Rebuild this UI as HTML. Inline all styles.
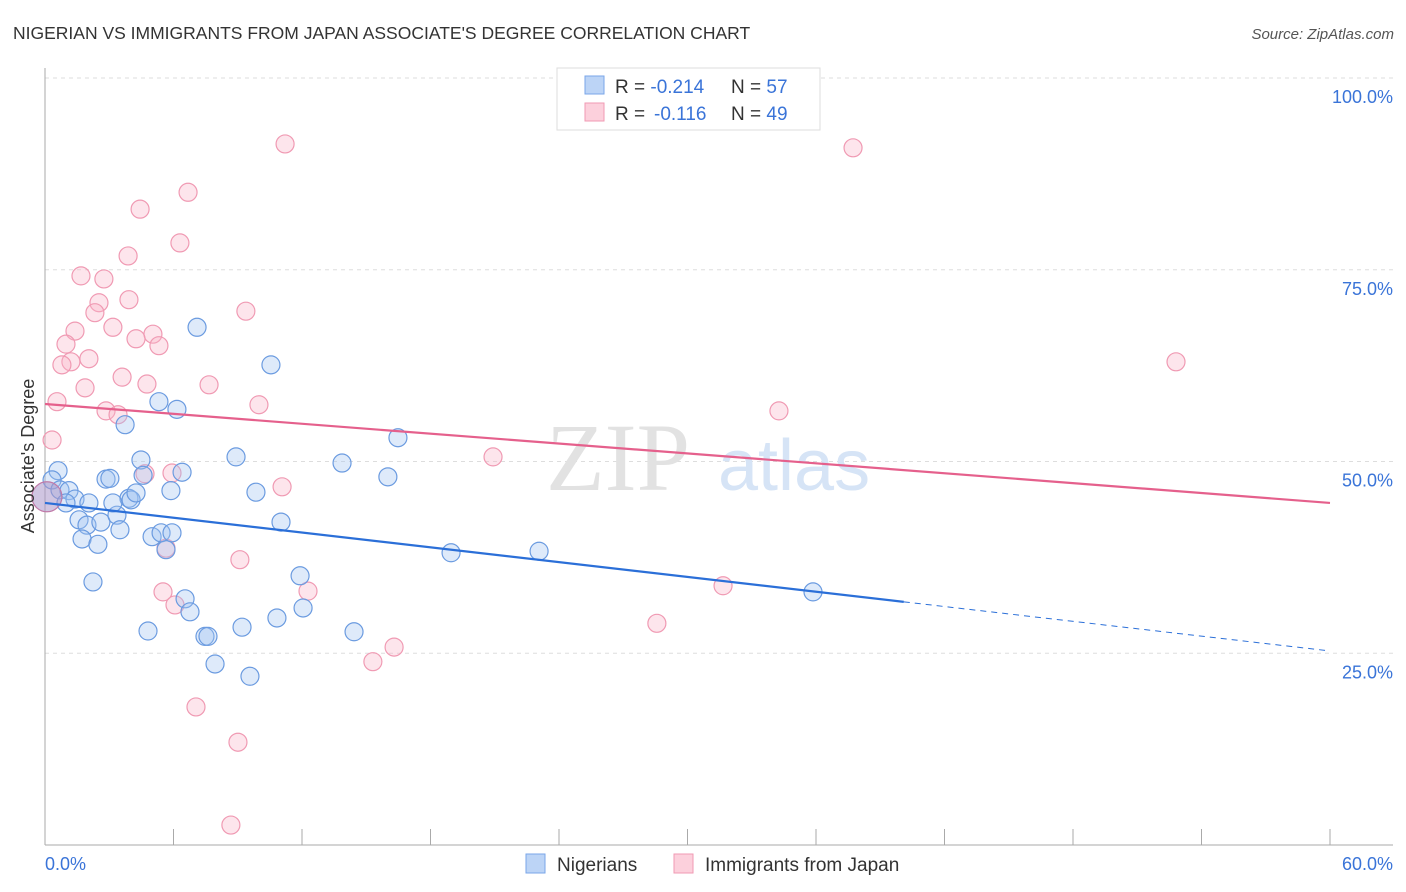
<!DOCTYPE html>
<html><head><meta charset="utf-8"><style>
body{margin:0;background:#fff;font-family:"Liberation Sans",sans-serif}
svg{display:block}
</style></head><body>
<svg width="1406" height="892" xmlns="http://www.w3.org/2000/svg">
<text x="13" y="39" font-size="17.5" fill="#333">NIGERIAN VS IMMIGRANTS FROM JAPAN ASSOCIATE'S DEGREE CORRELATION CHART</text>
<text x="1394" y="39" font-size="15" fill="#555" font-style="italic" text-anchor="end">Source: ZipAtlas.com</text>
<g id="grid"></g>
<text x="690" y="490" font-size="96" fill="#e2e2e2" font-family="Liberation Serif,serif" text-anchor="end">ZIP</text>
<text x="718" y="490" font-size="72" fill="#d6e4f6">atlas</text>
<g id="pts"></g>
<g id="lines"></g>
<text transform="translate(34,456) rotate(-90)" font-size="18" fill="#333" text-anchor="middle">Associate's Degree</text>
<text x="45" y="870" font-size="18" fill="#3a74d8">0.0%</text>
<text x="1393" y="870" font-size="18" fill="#3a74d8" text-anchor="end">60.0%</text>
<g>
<rect x="557" y="68" width="263" height="62" fill="#fff" stroke="#ddd"/>
<rect x="585" y="76" width="19" height="18" fill="#bcd4f6" stroke="#7aa6e8"/>
<rect x="585" y="103" width="19" height="18" fill="#fcd0dc" stroke="#f09ab3"/>
<text x="615" y="93" font-size="19" fill="#333">R = <tspan fill="#3a74d8">-0.214</tspan><tspan x="731">N = </tspan><tspan fill="#3a74d8">57</tspan></text>
<text x="615" y="120" font-size="19" fill="#333">R = <tspan x="654" fill="#3a74d8">-0.116</tspan><tspan x="731">N = </tspan><tspan fill="#3a74d8">49</tspan></text>
</g>
<g>
<rect x="526" y="854" width="19" height="19" fill="#bcd4f6" stroke="#7aa6e8"/>
<text x="557" y="871" font-size="19" fill="#333">Nigerians</text>
<rect x="674" y="854" width="19" height="19" fill="#fcd0dc" stroke="#f09ab3"/>
<text x="705" y="871" font-size="19" fill="#333">Immigrants from Japan</text>
</g>
</svg>
<script>
const yTicks=[25,50,75,100];
const yTickLabels=["25.0%","50.0%","75.0%","100.0%"];
const xTicks=[0,6,12,18,24,30,36,42,48,54,60];
const blueX=[0.61,0.33,0.70,1.12,1.40,0.98,2.05,1.59,1.96,2.61,1.73,2.47,2.24,3.36,3.50,2.85,3.03,3.92,4.02,4.25,4.48,4.58,5.00,5.42,5.93,5.65,5.88,6.40,5.32,6.16,7.10,3.74,4.81,6.54,6.77,7.47,7.61,7.94,9.20,9.57,8.92,9.85,11.02,10.55,11.91,10.83,12.05,13.87,14.43,16.01,16.48,18.96,23.07,35.86,3.17];
const blueY=[48.8,47.6,46.3,46.2,45.1,44.6,44.6,42.4,41.7,42.1,39.9,39.2,34.3,43.0,41.1,47.7,47.8,45.2,45.0,45.9,50.2,48.2,40.2,40.7,40.7,38.5,46.2,48.6,57.8,56.8,67.5,54.8,27.9,32.1,30.4,27.2,27.2,23.6,28.4,22.0,50.6,46.0,42.1,62.6,35.1,29.6,30.9,49.8,27.8,48.0,53.1,38.1,38.3,33.0,44.6];
const pinkX=[11.21,37.73,6.68,4.44,6.30,3.88,1.68,2.75,2.52,3.92,2.33,9.38,1.40,3.17,5.04,4.25,5.32,0.98,2.05,1.21,0.79,3.60,1.87,4.76,7.66,0.56,2.85,3.41,9.99,34.27,52.81,0.33,4.67,5.93,20.92,11.07,9.10,5.65,5.51,6.07,12.28,31.66,28.57,16.30,15.31,7.05,9.01,8.68];
const pinkY=[91.4,90.9,85.1,82.9,78.5,76.8,74.2,73.8,70.7,71.1,69.4,69.6,67.0,67.5,66.6,66.0,65.1,65.3,63.4,63.0,62.6,61.0,59.6,60.1,60.0,57.8,56.6,56.1,57.4,56.6,63.0,52.8,48.4,48.5,50.6,46.7,37.2,38.7,33.0,31.3,33.1,33.8,28.9,25.8,23.9,18.0,13.4,2.6];
const bigPoint=[0.09,45.4];
const blueTrend=[44.6,25.3], blueSolidEnd=40.1;
const pinkTrend=[57.5,44.6];
const NS="http://www.w3.org/2000/svg";
const X=v=>45+v/60*1285, Y=v=>845-v*7.67;
function mk(tag,a,parent){const e=document.createElementNS(NS,tag);for(const k in a)e.setAttribute(k,a[k]);document.getElementById(parent).appendChild(e);return e;}
yTicks.forEach((t,i)=>{
 const l=mk('line',{x1:45,x2:1393,y1:Y(t),y2:Y(t),stroke:'#ddd','stroke-dasharray':'4,4'},'grid');
 
 
 const tx=mk('text',{x:1393,y:Y(t)+25,'font-size':18,fill:'#3a74d8','text-anchor':'end'},'grid');
 tx.textContent=yTickLabels[i];
 
 
});
let ax=mk('line',{x1:45,x2:45,y1:68,y2:845,stroke:'#aaa'},'grid');


let bx=mk('line',{x1:45,x2:1393,y1:845,y2:845,stroke:'#aaa'},'grid');


xTicks.forEach(t=>{
 const l=mk('line',{x1:X(t),x2:X(t),y1:829,y2:845,stroke:'#aaa'},'grid');
 
 
});
pinkX.forEach((x,i)=>{
 const c=mk('circle',{cx:X(x),cy:Y(pinkY[i]),r:9,fill:'rgba(248,180,200,0.35)',stroke:'#f09ab3','stroke-width':1.2},'pts');
 
 
});
blueX.forEach((x,i)=>{
 const c=mk('circle',{cx:X(x),cy:Y(blueY[i]),r:9,fill:'rgba(160,195,240,0.35)',stroke:'#6b9be0','stroke-width':1.2},'pts');
 
 
});
const big=mk('circle',{cx:X(bigPoint[0]),cy:Y(bigPoint[1]),r:15,fill:'rgba(170,150,200,0.55)',stroke:'#c07aa8','stroke-width':1.2},'pts');


const bs=blueTrend[0]+(blueTrend[1]-blueTrend[0])*blueSolidEnd/60;
let l1=mk('line',{x1:X(0),y1:Y(blueTrend[0]),x2:X(blueSolidEnd),y2:Y(bs),stroke:'#2b6fd8','stroke-width':2.2},'lines');


let l2=mk('line',{x1:X(blueSolidEnd),y1:Y(bs),x2:X(60),y2:Y(blueTrend[1]),stroke:'#2b6fd8','stroke-width':1,'stroke-dasharray':'6,5'},'lines');


let l3=mk('line',{x1:X(0),y1:Y(pinkTrend[0]),x2:X(60),y2:Y(pinkTrend[1]),stroke:'#e5608c','stroke-width':2.2},'lines');


</script>
</body></html>
